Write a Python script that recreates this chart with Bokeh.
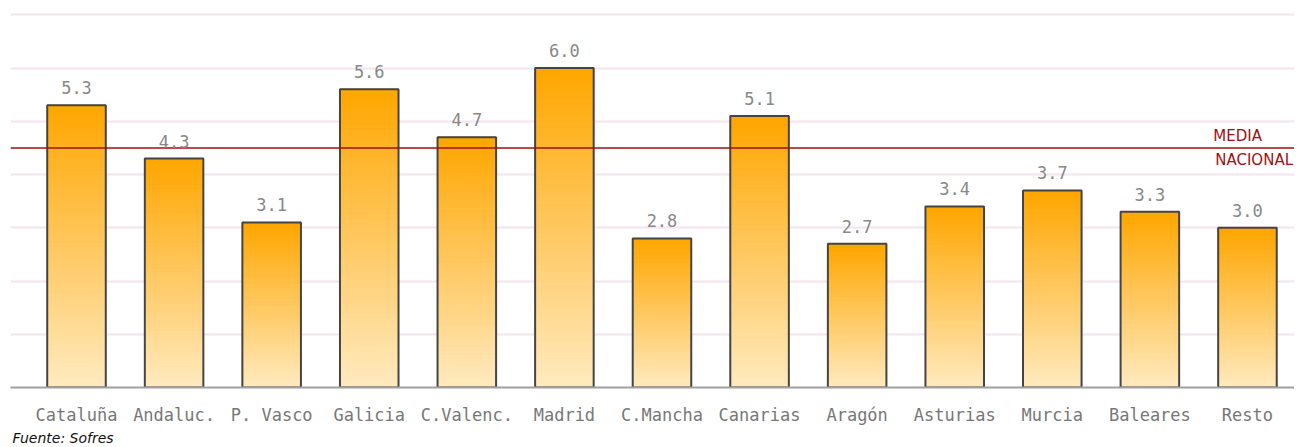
import numpy as np
from bokeh.plotting import figure
from bokeh.models import (ColumnDataSource, Range1d, FixedTicker, SingleIntervalTicker,
                          Span, Label, LabelSet, Title)
from bokeh.core.properties import value
from bokeh.embed import file_html
from bokeh.resources import INLINE

# ---- data ----
categories = ["Cataluña", "Andaluc.", "P. Vasco", "Galicia", "C.Valenc.", "Madrid",
              "C.Mancha", "Canarias", "Aragón", "Asturias", "Murcia", "Baleares", "Resto"]
values = [5.3, 4.3, 3.1, 5.6, 4.7, 6.0, 2.8, 5.1, 2.7, 3.4, 3.7, 3.3, 3.0]
media_nacional = 4.5
media_label = ["MEDIA", "NACIONAL"]
source_note = "Fuente: Sofres"

# ---- styling ----
TOP = np.array([0xFF, 0xA6, 0x00], dtype=float)
BOT = np.array([0xFF, 0xEA, 0xC0], dtype=float)
MONO = "DejaVu Sans Mono"
N = 60

x = np.arange(len(categories))
bw = 0.6

# gradient slices computed from the data
xs, bots, tops, cols = [], [], [], []
for i, v in enumerate(values):
    for k in range(N):
        t = (k + 0.5) / N
        c = BOT + (TOP - BOT) * t
        xs.append(x[i])
        bots.append(v * k / N)
        tops.append(v * (k + 1) / N)
        cols.append("#%02x%02x%02x" % tuple(int(round(cc)) for cc in c))
grad = ColumnDataSource(dict(x=xs, bottom=bots, top=tops, color=cols))
src = ColumnDataSource(dict(x=x, top=values, lab=[f"{v:.1f}" for v in values]))

FW, FH = 1284, 379
PX_X, PX_Y = 97.58, 53.25
x0 = -66 / PX_X

p = figure(width=1294, height=439, frame_width=FW, frame_height=FH,
           output_backend="svg", toolbar_location=None, y_axis_location=None,
           x_range=Range1d(x0, x0 + FW / PX_X), y_range=Range1d(0, FH / PX_Y),
           min_border_left=10, min_border_right=0, min_border_top=8, min_border_bottom=0,
           outline_line_color=None, background_fill_color="white", border_fill_color="white")

p.ygrid.ticker = SingleIntervalTicker(interval=1)
p.ygrid.grid_line_color = "#f3e4f0"
p.ygrid.grid_line_width = 2
p.xgrid.grid_line_color = None

p.vbar(x="x", bottom="bottom", top="top", width=bw, source=grad,
       fill_color="color", line_color="color", line_width=1)
p.vbar(x="x", top="top", bottom=0, width=bw, source=src,
       fill_color=None, line_color="#444444", line_width=2)

p.add_layout(Span(location=media_nacional, dimension="width",
                  line_color="#a01010", line_width=1.5))
p.add_layout(Label(x=len(categories) - 1.35, y=media_nacional, text=media_label[0],
                   y_offset=3, text_baseline="bottom", text_color="#a01010",
                   text_font="DejaVu Sans", text_font_size="15px"))
p.add_layout(Label(x=len(categories) - 1.33, y=media_nacional, text=media_label[1],
                   y_offset=-3, text_baseline="top", text_color="#a01010",
                   text_font="DejaVu Sans", text_font_size="15px"))

p.add_layout(LabelSet(x="x", y="top", text="lab", source=src, y_offset=11,
                      text_align="center", text_baseline="bottom", text_color="#888888",
                      text_font=value(MONO), text_font_size="17px"))

p.xaxis.ticker = FixedTicker(ticks=list(x))
p.xaxis.major_label_overrides = {int(i): c for i, c in zip(x, categories)}
p.xaxis.axis_line_color = "#a0a0a0"
p.xaxis.axis_line_width = 2
p.xaxis.major_tick_line_color = None
p.xaxis.minor_tick_line_color = None
p.xaxis.major_label_standoff = 11
p.xaxis.major_label_text_font = MONO
p.xaxis.major_label_text_font_size = "17px"
p.xaxis.major_label_text_color = "#777777"

p.add_layout(Title(text=source_note, text_font="DejaVu Sans", text_font_style="italic",
                   text_font_size="14px", text_color="#111111", align="left",
                   offset=2, standoff=0), "below")

open("out.html", "w").write(file_html(p, INLINE))
